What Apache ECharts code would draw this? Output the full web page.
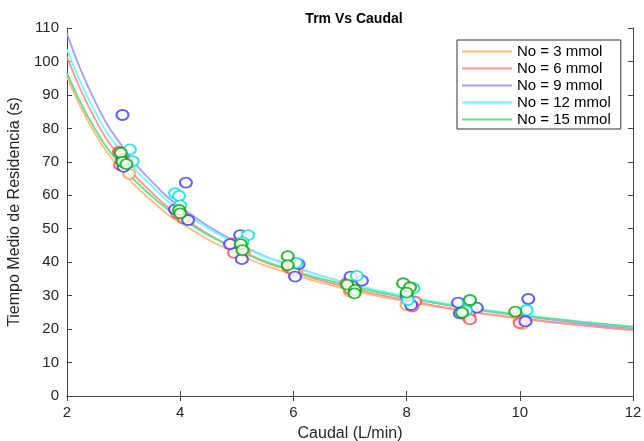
<!DOCTYPE html>
<html>
<head>
<meta charset="utf-8">
<script src="https://cdn.jsdelivr.net/npm/echarts@6/dist/echarts.min.js"></script>
<style>
  html, body { margin: 0; padding: 0; background: #ffffff; }
  #chart { width: 644px; height: 441px; }
</style>
</head>
<body>
<div id="chart"></div>
<script>
// fitted curves at these flow values
var curveX = [2, 2.5, 3, 3.5, 4, 5, 6, 7, 8, 9, 10, 11, 12];
var fit3 = [95.4, 78.4, 66.8, 58.3, 51.8, 42.6, 36.3, 31.7, 28.2, 25.4, 23.1, 21.3, 19.7];
var fit6 = [101.4, 82.7, 70.0, 60.8, 53.8, 43.9, 37.1, 32.3, 28.6, 25.6, 23.3, 21.3, 19.7];
var fit9 = [108.4, 87.9, 74.1, 64.1, 56.6, 45.9, 38.7, 33.5, 29.5, 26.4, 24.0, 21.9, 20.2];
var fit12 = [103.6, 84.8, 72.0, 62.7, 55.6, 45.5, 38.6, 33.6, 29.8, 26.8, 24.4, 22.4, 20.7];
var fit15 = [96.5, 79.7, 68.1, 59.7, 53.2, 43.9, 37.5, 32.9, 29.3, 26.5, 24.2, 22.3, 20.7];

// measured points [caudal, tiempo]
var pts3 = [[3.10,66.4],[3.02,69.5],[2.95,72.5],[4.06,53.5],[3.98,55.0],[5.13,43.1],[5.00,44.5],
  [5.95,38.5],[6.05,37.5],[7.05,32.6],[7.00,31.2],[8.00,27.2],[8.10,28.0],[9.10,25.3],[9.05,24.0],
  [10.05,21.5],[10.00,22.5]];
var pts6 = [[2.92,73.0],[2.94,69.0],[3.00,71.0],[4.06,53.1],[3.95,54.5],[4.95,42.8],[4.92,45.6],
  [5.92,38.4],[6.00,37.5],[6.94,33.7],[7.00,32.0],[8.15,28.2],[8.10,26.7],[9.10,24.3],[9.12,22.9],
  [10.05,22.5],[10.00,21.8]];
var pts9 = [[2.98,84.0],[2.98,70.5],[3.00,68.5],[4.10,63.8],[3.91,55.8],[4.14,52.6],[5.06,48.1],
  [4.88,45.4],[5.09,40.9],[6.09,39.4],[6.03,35.7],[7.01,35.7],[7.21,34.5],[8.00,29.9],[8.08,27.2],
  [8.91,27.9],[9.24,26.4],[8.94,24.7],[10.15,29.0],[10.10,22.3]];
var pts12 = [[3.11,73.7],[3.16,70.2],[3.91,60.6],[3.98,59.8],[4.00,57.0],[5.20,48.1],[5.10,46.0],
  [6.05,39.8],[7.12,35.9],[8.12,32.2],[8.02,28.7],[9.10,28.2],[9.05,25.5],[10.12,25.7]];
var pts15 = [[2.95,72.7],[2.98,70.0],[3.05,69.3],[3.98,55.6],[4.00,54.6],[5.07,45.4],[5.10,43.6],
  [5.90,41.8],[5.90,39.1],[6.95,33.3],[7.09,31.7],[7.08,30.7],[7.94,33.7],[8.06,32.5],[8.00,30.9],
  [9.12,28.7],[8.98,24.9],[9.92,25.2]];

var names = ["No = 3 mmol", "No = 6 mmol", "No = 9 mmol", "No = 12 mmol", "No = 15 mmol"];
var fits = [fit3, fit6, fit9, fit12, fit15];
var pts = [pts3, pts6, pts9, pts12, pts15];
var lineColors = ["#ffbd80", "#ff9494", "#a0a0ff", "#70ffff", "#66dd88"];
var markColors = ["#ff9a3c", "#ff4a4a", "#3a3aff", "#00dede", "#00a800"];

var font = "'Liberation Sans', Arial, sans-serif";
var axisColor = "#444444";

var series = [];
for (var i = 0; i < 5; i++) {
  series.push({
    name: "datos " + i,
    type: "scatter",
    data: pts[i],
    symbol: "emptyCircle",
    symbolSize: [12, 10],
    itemStyle: { color: markColors[i], borderColor: markColors[i], borderWidth: 1.6 },
    z: 3,
  });
  series.push({
    name: names[i],
    type: "line",
    data: curveX.map(function (x, k) { return [x, fits[i][k]]; }),
    smooth: true,
    showSymbol: false,
    lineStyle: { color: lineColors[i], width: 1.8 },
    itemStyle: { color: lineColors[i] },
    z: 2,
  });
}

var chart = echarts.init(document.getElementById("chart"));
chart.setOption({
  animation: false,
  backgroundColor: "#ffffff",
  title: {
    text: "Trm Vs Caudal",
    left: 349,
    top: 7,
    textAlign: "center",
    textStyle: { fontFamily: font, fontSize: 14, fontWeight: "bold", color: "#000000" },
  },
  grid: { left: 67, right: 11, top: 28, bottom: 45, outerBoundsMode: "none" },
  legend: {
    orient: "vertical",
    left: 457,
    top: 40,
    padding: [4, 10, 2, 5],
    itemWidth: 50,
    itemHeight: 2,
    itemGap: 2,
    icon: "rect",
    backgroundColor: "#ffffff",
    borderColor: "#333333",
    borderWidth: 1,
    borderRadius: 0,
    data: names.map(function (n, i) {
      return { name: n, itemStyle: { color: lineColors[i], borderWidth: 0 } };
    }),
    textStyle: { fontFamily: font, fontSize: 15, color: "#000000", lineHeight: 15 },
    selectedMode: false,
  },
  xAxis: [
    {
      type: "value",
      min: 2,
      max: 12,
      interval: 2,
      name: "Caudal (L/min)",
      nameLocation: "middle",
      nameGap: 30,
      nameTextStyle: { fontFamily: font, fontSize: 16, color: "#262626" },
      axisLine: { lineStyle: { color: axisColor } },
      axisTick: { inside: true, length: 5, lineStyle: { color: axisColor } },
      axisLabel: { fontFamily: font, fontSize: 15, color: "#262626", margin: 9 },
      splitLine: { show: false },
    },
    {
      type: "value",
      position: "top",
      min: 2,
      max: 12,
      interval: 2,
      axisLine: { show: true, lineStyle: { color: axisColor } },
      axisTick: { inside: true, length: 5, lineStyle: { color: axisColor } },
      axisLabel: { show: false },
      splitLine: { show: false },
    },
  ],
  yAxis: [
    {
      type: "value",
      min: 0,
      max: 110,
      interval: 10,
      name: "Tiempo Medio de Residencia (s)",
      nameLocation: "middle",
      nameGap: 44,
      nameTextStyle: { fontFamily: font, fontSize: 16, color: "#262626" },
      axisLine: { show: true, lineStyle: { color: axisColor } },
      axisTick: { show: true, inside: true, length: 5, lineStyle: { color: axisColor } },
      axisLabel: { fontFamily: font, fontSize: 15, color: "#262626", margin: 8 },
      splitLine: { show: false },
    },
    {
      type: "value",
      position: "right",
      min: 0,
      max: 110,
      interval: 10,
      axisLine: { show: true, lineStyle: { color: axisColor } },
      axisTick: { show: true, inside: true, length: 5, lineStyle: { color: axisColor } },
      axisLabel: { show: false },
      splitLine: { show: false },
    },
  ],
  series: series,
});
</script>
</body>
</html>
